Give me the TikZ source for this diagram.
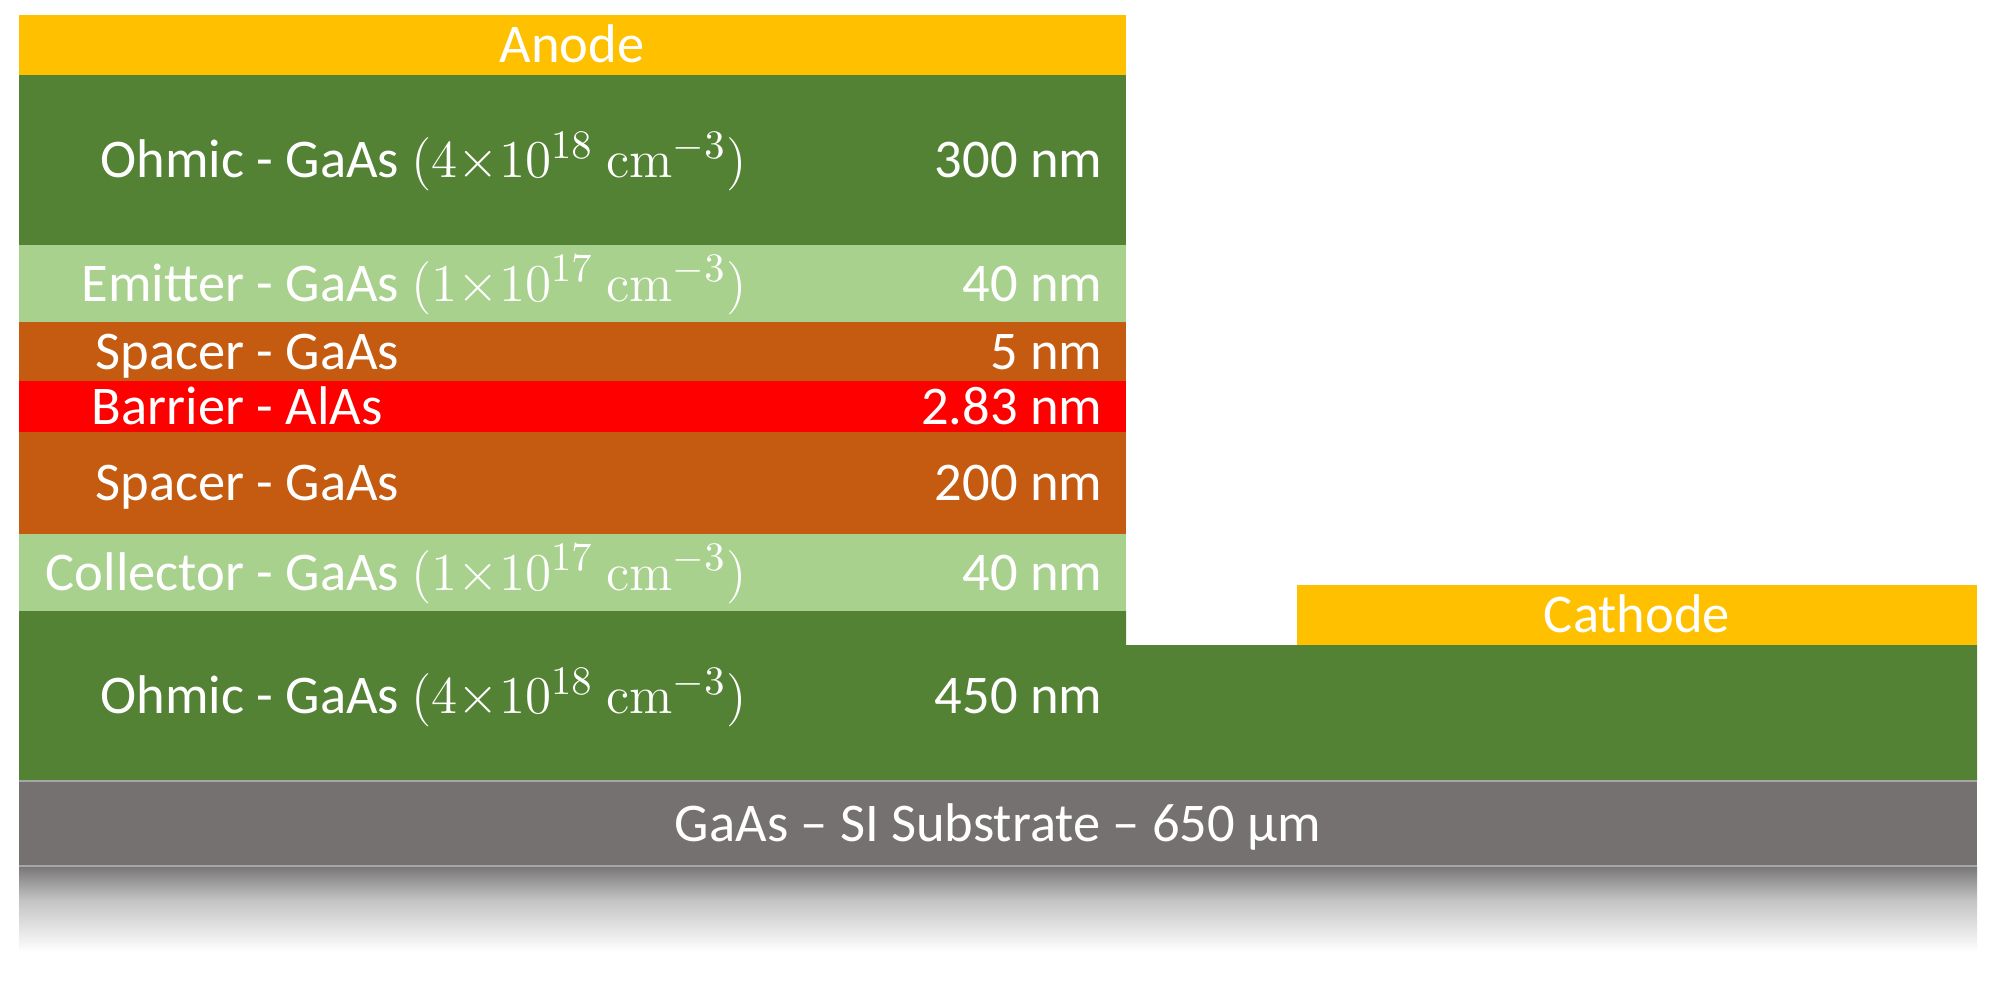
\documentclass[tikz,border=0pt]{standalone}
\usepackage[no-math]{fontspec}
\setmainfont{Carlito}
\definecolor{anodeC}{HTML}{FFC000}
\definecolor{dgreen}{HTML}{548235}
\definecolor{lgreen}{HTML}{A9D18E}
\definecolor{orangeC}{HTML}{C55A11}
\definecolor{redC}{HTML}{FF0000}
\definecolor{subC}{HTML}{767171}
\definecolor{lineC}{HTML}{A6A6A6}
\definecolor{shadeTop}{HTML}{787676}
\definecolor{shadeMid}{HTML}{C4C3C3}
\newcommand{\dop}[2]{\scalebox{1.05}{$(#1{\times}10^{#2}\ \mathrm{cm}^{-3})$}}
\begin{document}
\begin{tikzpicture}[x=0.01cm,y=-0.01cm,
  lbl/.style={text=white,font=\fontsize{15.5}{18}\selectfont,inner sep=0pt},
  leftlbl/.style={lbl,anchor=base west},
  rightlbl/.style={lbl,anchor=base east},
  midlbl/.style={lbl,anchor=base}]
\useasboundingbox (0,0) rectangle (1996,984);
% layers
\fill[anodeC] (19,15) rectangle (1126,75);
\fill[dgreen] (19,75) rectangle (1126,245);
\fill[lgreen] (19,245) rectangle (1126,322);
\fill[orangeC] (19,322) rectangle (1126,381);
\fill[redC] (19,381) rectangle (1126,432);
\fill[orangeC] (19,432) rectangle (1126,534);
\fill[lgreen] (19,534) rectangle (1126,611);
\fill[dgreen] (19,611) -- (1126,611) -- (1126,645) -- (1977,645) -- (1977,781) -- (19,781) -- cycle;
\fill[anodeC] (1297,585) rectangle (1977,645);
\fill[subC] (19,781) rectangle (1977,866);
\shade[top color=shadeTop,bottom color=shadeMid] (19,866) rectangle (1977,900);
\shade[top color=shadeMid,bottom color=white] (19,900) rectangle (1977,952);
\draw[lineC,line width=0.6pt] (19,781) -- (1977,781);
\draw[lineC,line width=0.6pt] (19,866) -- (1977,866);
% labels
\node[midlbl] (anode) at (572,62.5) {Anode};
\node[leftlbl] (ohm1) at (285,177.5) {\llap{Ohmic - }GaAs \dop{4}{18}};
\node[rightlbl] (ohm1t) at (1103,177.5) {300 nm};
\node[leftlbl] (emit) at (285,301) {\llap{Emitter - }GaAs \dop{1}{17}};
\node[rightlbl] (emitt) at (1103,301) {40 nm};
\node[leftlbl] (sp1) at (285,369) {\llap{Spacer - }GaAs};
\node[rightlbl] (sp1t) at (1103,369) {5 nm};
\node[leftlbl] (bar) at (285,424) {\llap{Barrier - }AlAs};
\node[rightlbl] (bart) at (1103,424) {2.83 nm};
\node[leftlbl] (sp2) at (285,500) {\llap{Spacer - }GaAs};
\node[rightlbl] (sp2t) at (1103,500) {200 nm};
\node[leftlbl] (col) at (285,590) {\llap{Collector - }GaAs \dop{1}{17}};
\node[rightlbl] (colt) at (1103,590) {40 nm};
\node[leftlbl] (ohm2) at (285,713.5) {\llap{Ohmic - }GaAs \dop{4}{18}};
\node[rightlbl] (ohm2t) at (1103,713.5) {450 nm};
\node[midlbl] (cath) at (1637,632.5) {Cathode};
\node[midlbl] (sub) at (998,841) {GaAs – SI Substrate – 650 µm};
\end{tikzpicture}
\end{document}
